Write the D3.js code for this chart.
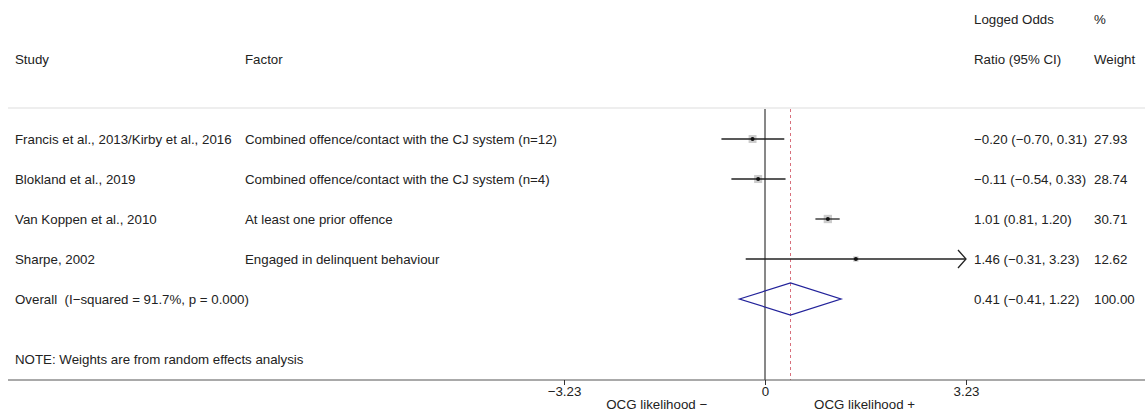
<!DOCTYPE html>
<html>
<head>
<meta charset="utf-8">
<script src="https://cdn.jsdelivr.net/npm/d3@7"></script>
<style>
  body { margin: 0; background: #fff; }
  text { font-family: "Liberation Sans", Arial, sans-serif; font-size: 13.3px; fill: #222; white-space: pre; }
</style>
</head>
<body>
<div id="chart"></div>
<script>
// DATA
const studies = ["Francis et al., 2013/Kirby et al., 2016", "Blokland et al., 2019", "Van Koppen et al., 2010", "Sharpe, 2002"];
const factors = ["Combined offence/contact with the CJ system (n=12)", "Combined offence/contact with the CJ system (n=4)", "At least one prior offence", "Engaged in delinquent behaviour"];
const estimates = [-0.20, -0.11, 1.01, 1.46];
const lower = [-0.70, -0.54, 0.81, -0.31];
const upper = [0.31, 0.33, 1.20, 3.23];
const weights = [27.93, 28.74, 30.71, 12.62];
const overall = { label: "Overall  (I\u2212squared = 91.7%, p = 0.000)", est: 0.41, lo: -0.41, hi: 1.22, weight: 100.00 };
const tickValues = [-3.23, 0, 3.23];
const sideLabels = [{ v: -1.74, t: "OCG likelihood \u2212" }, { v: 1.6, t: "OCG likelihood +" }];

const width = 1145, height = 413;
const fmt = d3.format(".2f");
const m = v => fmt(v).replace("-", "\u2212");

const svg = d3.select("#chart").append("svg").attr("width", width).attr("height", height);

// SCALES
const x = d3.scaleLinear().domain([-3.23, 3.23]).range([564, 966]);
const y = d3.scaleLinear().domain([0, 4]).range([139, 299]);

const colStudy = 15, colFactor = 245, colCI = 974, colW = 1094;
const plotTop = 109, axisY = 380;

// HEADER
svg.append("text").attr("x", colCI).attr("y", 19).attr("dy", "0.35em").text("Logged Odds");
svg.append("text").attr("x", colW).attr("y", 19).attr("dy", "0.35em").text("%");
svg.append("text").attr("x", colStudy).attr("y", 59).attr("dy", "0.35em").text("Study");
svg.append("text").attr("x", colFactor).attr("y", 59).attr("dy", "0.35em").text("Factor");
svg.append("text").attr("x", colCI).attr("y", 59).attr("dy", "0.35em").text("Ratio (95% CI)");
svg.append("text").attr("x", colW).attr("y", 59).attr("dy", "0.35em").text("Weight");

// separator
svg.append("line").attr("x1", 8).attr("x2", width).attr("y1", plotTop - 1).attr("y2", plotTop - 1)
  .attr("stroke", "#ddd").attr("stroke-width", 1);

// ZERO + OVERALL LINES
svg.append("line").attr("x1", x(0)).attr("x2", x(0)).attr("y1", plotTop).attr("y2", axisY)
  .attr("stroke", "#111").attr("stroke-width", 1);
svg.append("line").attr("x1", x(overall.est)).attr("x2", x(overall.est)).attr("y1", plotTop).attr("y2", axisY)
  .attr("stroke", "#d8707c").attr("stroke-width", 1).attr("stroke-dasharray", "3,3");

// ROWS
const rows = studies.map((s, i) => ({ s, f: factors[i], est: estimates[i], lo: lower[i], hi: upper[i], w: weights[i], i }));
const g = svg.append("g");

rows.forEach(d => {
  const cy = y(d.i);
  g.append("text").attr("x", colStudy).attr("y", cy).attr("dy", "0.35em").text(d.s);
  g.append("text").attr("x", colFactor).attr("y", cy).attr("dy", "0.35em").text(d.f);
  g.append("text").attr("x", colCI).attr("y", cy).attr("dy", "0.35em")
    .text(`${m(d.est)} (${m(d.lo)}, ${m(d.hi)})`);
  g.append("text").attr("x", colW).attr("y", cy).attr("dy", "0.35em").text(fmt(d.w));

  // weight box
  const side = Math.sqrt(d.w) * 1.5;
  g.append("rect").attr("x", x(d.est) - side / 2).attr("y", cy - side / 2)
    .attr("width", side).attr("height", side).attr("fill", "#ccc");
  const hiX = Math.min(x(d.hi), x.range()[1]);
  g.append("line").attr("x1", x(d.lo)).attr("x2", hiX).attr("y1", cy).attr("y2", cy)
    .attr("stroke", "#222").attr("stroke-width", 1.3);
  g.append("circle").attr("cx", x(d.est)).attr("cy", cy).attr("r", 2).attr("fill", "#111");
  // arrow when CI hits the axis limit
  if (d.hi >= x.domain()[1]) {
    g.append("path")
      .attr("d", `M${hiX - 8},${cy - 9}L${hiX},${cy}L${hiX - 8},${cy + 9}`)
      .attr("fill", "none").attr("stroke", "#222").attr("stroke-width", 1.3);
  }
});

// OVERALL
const oy = y(4);
svg.append("text").attr("x", colStudy).attr("y", oy).attr("dy", "0.35em").text(overall.label);
svg.append("text").attr("x", colCI).attr("y", oy).attr("dy", "0.35em")
  .text(`${m(overall.est)} (${m(overall.lo)}, ${m(overall.hi)})`);
svg.append("text").attr("x", colW).attr("y", oy).attr("dy", "0.35em").text(fmt(overall.weight));
svg.append("path")
  .attr("d", `M${x(overall.lo)},${oy}L${x(overall.est)},${oy - 16}L${x(overall.hi)},${oy}L${x(overall.est)},${oy + 16}Z`)
  .attr("fill", "none").attr("stroke", "#22229a").attr("stroke-width", 1.3);

// NOTE
svg.append("text").attr("x", colStudy).attr("y", 359).attr("dy", "0.35em").text("NOTE: Weights are from random effects analysis");

// AXIS
svg.append("line").attr("x1", 8).attr("x2", width).attr("y1", axisY).attr("y2", axisY)
  .attr("stroke", "#555").attr("stroke-width", 1);
const axis = svg.append("g").attr("transform", `translate(0,${axisY})`)
  .call(d3.axisBottom(x).tickValues(tickValues).tickSize(5).tickFormat(d => d === 0 ? "0" : m(d)));
axis.select(".domain").remove();
axis.selectAll(".tick line").attr("stroke", "#333");
axis.selectAll(".tick text").attr("y", 7).style("font-size", "13.3px")
  .style("font-family", "'Liberation Sans', Arial, sans-serif").attr("fill", "#222");

svg.selectAll(".side").data(sideLabels).enter().append("text")
  .attr("class", "side").attr("x", d => x(d.v)).attr("y", 404).attr("dy", "0.35em")
  .attr("text-anchor", "middle").text(d => d.t);
</script>
</body>
</html>
